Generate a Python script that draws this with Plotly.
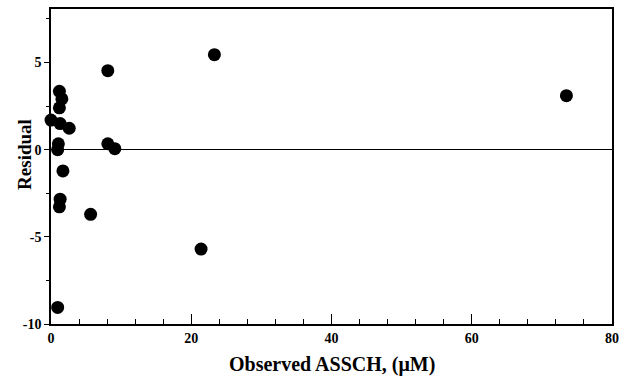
import plotly.graph_objects as go

observed = [23.3, 8.1, 1.2, 1.55, 1.2, 0.0, 1.3, 2.6, 1.05, 0.95, 8.1, 9.1, 1.7, 1.3, 1.2, 5.65, 21.4, 0.95, 73.5]
residual = [5.45, 4.53, 3.35, 2.91, 2.4, 1.7, 1.5, 1.23, 0.34, 0.0, 0.34, 0.06, -1.22, -2.84, -3.28, -3.71, -5.7, -9.05, 3.1]

x_ticks = [0, 20, 40, 60, 80]
y_ticks = [-10, -5, 0, 5]

font = "Liberation Serif, Times New Roman, serif"

fig = go.Figure()
fig.add_trace(go.Scatter(
    x=observed, y=residual, mode="markers",
    marker=dict(size=13, color="black"),
    cliponaxis=False, showlegend=False,
))

fig.update_layout(
    width=626, height=381,
    margin=dict(l=51, r=7, t=8, b=57),
    paper_bgcolor="white", plot_bgcolor="white",
    font=dict(family=font, color="black", size=13),
    xaxis=dict(
        range=[0, 80], tickvals=x_ticks, ticktext=[str(v) for v in x_ticks],
        ticks="inside", ticklen=10, tickwidth=1.2, tickcolor="black",
        minor=dict(dtick=4, tick0=0, ticks="inside", ticklen=5, tickwidth=1, tickcolor="black"),
        showline=True, linecolor="black", linewidth=1.5, mirror=True,
        showgrid=False, zeroline=False,
        tickfont=dict(family=font, size=14, weight="bold"),
    ),
    yaxis=dict(
        range=[-10, 8.07], tickvals=y_ticks, ticktext=[str(v) for v in y_ticks],
        ticks="outside", ticklen=5, tickwidth=1.2, tickcolor="black",
        minor=dict(dtick=2.5, tick0=0, ticks="outside", ticklen=3, tickwidth=1, tickcolor="black"),
        showline=True, linecolor="black", linewidth=1.5, mirror=True,
        showgrid=False, zeroline=True, zerolinecolor="black", zerolinewidth=1.2,
        tickfont=dict(family=font, size=14, weight="bold"),
    ),
    annotations=[
        dict(text="Observed ASSCH, (μM)", xref="paper", yref="paper", x=0.5, y=-0.127,
             xanchor="center", yanchor="middle", showarrow=False,
             font=dict(family=font, size=20, weight="bold")),
        dict(text="Residual", xref="paper", yref="paper", x=-0.0475, y=0.538,
             xanchor="center", yanchor="middle", textangle=-90, showarrow=False,
             font=dict(family=font, size=19, weight="bold")),
    ],
)

fig.write_html("out.html", config={"displayModeBar": False},
               post_script="document.body.style.margin='0';document.body.style.overflow='hidden';")
